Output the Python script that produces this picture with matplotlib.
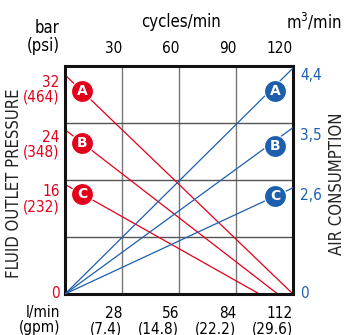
import numpy as np
import matplotlib
matplotlib.use("Agg")
import matplotlib.pyplot as plt
from matplotlib import font_manager

RED = '#e2001a'
BLUE = '#1d5fac'

# data
flow_ticks = [28, 56, 84, 112]
gpm_ticks = [7.4, 14.8, 22.2, 29.6]
cycle_ticks = [30, 60, 90, 120]
letters = ['A', 'B', 'C']
pressure_bar = [32, 24, 16]
pressure_psi = [464, 348, 232]
pressure_end_flow = [112, 104.5, 95.5]
air_m3 = [4.4, 3.5, 2.6]
air_end_flow = [112, 112, 112]
red_marker_flow = 8.4
blue_marker_flow = 103.2

# the air scale of the chart is not linear; knots
air_knots = [0, 2.6, 3.5, 4.4, 5.0]
air_pos = [0, 15.5, 24.3, 33.0, 39.0]

# a narrow sans if one is around, like the original's condensed face
fonts = font_manager.fontManager.ttflist
if any(f.name == 'Liberation Sans Narrow' for f in fonts):
    plt.rcParams['font.family'] = ['Liberation Sans Narrow', 'DejaVu Sans']
elif any(f.name == 'DejaVu Sans' and 'Condensed' in f.fname for f in fonts):
    plt.rcParams['font.family'] = ['DejaVu Sans']
    plt.rcParams['font.stretch'] = 'condensed'
else:
    plt.rcParams['font.family'] = ['Liberation Sans', 'DejaVu Sans']
NARROW = plt.rcParams['font.family'][0] != 'Liberation Sans'
fs_tick = 11 if NARROW else 10.5
fs_lab = 12 if NARROW else 11

W, H = 347, 335
fig = plt.figure(figsize=(W / 100, H / 100), dpi=100)
ax = fig.add_axes([65 / W, 1 - 294 / H, 228 / W, 228 / H])

ax.set_xlim(0, 112)
ax.set_ylim(0, 33.3)

# grid 4x4
for f in flow_ticks[:-1]:
    ax.axvline(f, color='#777777', lw=1, zorder=1)
for k in (1, 2, 3):
    ax.axhline(33.3 * k / 4, color='#555555', lw=1, zorder=1)

for s in ax.spines.values():
    s.set_linewidth(2.2)
    s.set_color('#111111')

# pressure lines
for p, fe, l in zip(pressure_bar, pressure_end_flow, letters):
    ax.plot([0, fe], [p, 0], color=RED, lw=0.9, zorder=2)
    ym = p * (1 - red_marker_flow / fe)
    ax.scatter([red_marker_flow], [ym], s=250, color=RED, edgecolor='white',
               linewidth=0.8, zorder=4)
    ax.text(red_marker_flow, ym, l, color='white', fontsize=10, fontweight='bold',
            ha='center', va='center', zorder=5, family='DejaVu Sans', stretch='normal')

# air axis
def fwd(v):
    return np.interp(v, air_knots, air_pos)

def inv(v):
    return np.interp(v, air_pos, air_knots)

ax2 = ax.twinx()
ax2.set_yscale('function', functions=(fwd, inv))
ax2.set_ylim(0, inv(33.3))
ax2.set_xlim(0, 112)
for s in ax2.spines.values():
    s.set_visible(False)

for a, fe, l in zip(air_m3, air_end_flow, letters):
    ax2.plot([0, fe], [0, a], color=BLUE, lw=0.9, zorder=2)
    ym = a * blue_marker_flow / fe
    ax2.scatter([blue_marker_flow], [ym], s=250, color=BLUE, edgecolor='white',
                linewidth=0.8, zorder=4)
    ax2.text(blue_marker_flow, ym, l, color='white', fontsize=10, fontweight='bold',
             ha='center', va='center', zorder=5, family='DejaVu Sans', stretch='normal')

# left ticks
ax.set_yticks([0] + pressure_bar)
ax.set_yticklabels(['0'] + ['%d\n(%d)' % (b, p) for b, p in zip(pressure_bar, pressure_psi)])
ax.tick_params(axis='y', length=0, pad=4, labelsize=fs_tick, labelcolor=RED)
for i, t in enumerate(ax.get_yticklabels()):
    t.set_multialignment('right')
    t.set_linespacing(1.0)
    t.set_va('center' if i == 0 else 'top')

# right ticks
ax2.set_yticks([0] + air_m3)
ax2.set_yticklabels(['0'] + [('%.1f' % a).replace('.', ',') for a in air_m3])
ax2.tick_params(axis='y', length=0, pad=5, labelsize=fs_tick, labelcolor=BLUE)
for i, t in enumerate(ax2.get_yticklabels()):
    t.set_va('center' if i == 0 else 'top')

# bottom ticks
ax.set_xticks(flow_ticks)
ax.set_xticklabels(['%d\n(%.1f)' % (f, g) for f, g in zip(flow_ticks, gpm_ticks)])
ax.tick_params(axis='x', length=0, pad=9, labelsize=fs_tick)
for t in ax.get_xticklabels():
    t.set_ha('right')
    t.set_multialignment('right')
    t.set_linespacing(1.0)

# top ticks (cycles)
top = ax.secondary_xaxis('top', functions=(lambda f: np.asarray(f) * 30 / 28,
                                           lambda c: np.asarray(c) * 28 / 30))
top.set_xticks(cycle_ticks)
top.tick_params(length=0, pad=7, labelsize=fs_tick)
top.spines['top'].set_visible(False)
for t in top.get_xticklabels():
    t.set_ha('right')

def ftext(x, y, s, **kw):
    fig.text(x / W, 1 - y / H, s, **kw)

ftext(60, 37, 'bar\n(psi)', fontsize=fs_lab, ha='right', va='center',
      multialignment='right', linespacing=0.95)
ftext(181, 22, 'cycles/min', fontsize=fs_lab, ha='center', va='center')
ftext(342, 22, 'm$^3$/min', fontsize=fs_lab, ha='right', va='center')
ftext(60, 320, 'l/min\n(gpm)', fontsize=fs_tick, ha='right', va='center',
      multialignment='right', linespacing=1.0)
ftext(14, 183, 'FLUID OUTLET PRESSURE', fontsize=fs_lab, rotation=90,
      ha='center', va='center', color='#222222')
ftext(337, 184, 'AIR CONSUMPTION', fontsize=fs_lab, rotation=90,
      ha='center', va='center', color='#222222')

fig.savefig('out.png', dpi=100)
